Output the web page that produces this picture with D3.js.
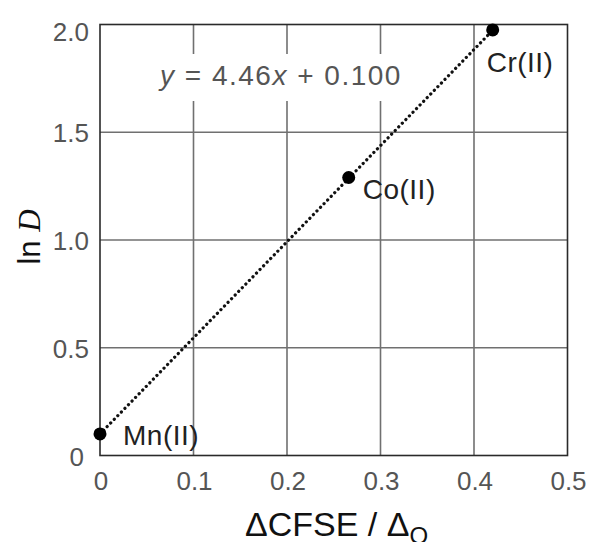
<!DOCTYPE html>
<html lang="en">
<head>
<meta charset="UTF-8">
<script src="https://d3js.org/d3.v7.min.js"></script>
<style>
  body { margin: 0; background: #fff; }
  text { font-family: 'Liberation Sans', Arial, sans-serif; }
</style>
</head>
<body>
<div id="chart"></div>
<script>
// data
var ions = ["Mn(II)", "Co(II)", "Cr(II)"];
var dcfse = [0, 0.266, 0.42];
var lnD = [0.10, 1.29, 1.975];
var xTicks = [0, 0.1, 0.2, 0.3, 0.4, 0.5];
var yTicks = [0, 0.5, 1.0, 1.5, 2.0];
var fitSlope = 4.46, fitIntercept = 0.100;

var svg = d3.select("#chart")
  .append("svg")
  .attr("width", 591)
  .attr("height", 542);

var x = d3.scaleLinear().domain([0, 0.5]).range([100, 567.5]);
var y = d3.scaleLinear().domain([0, 2]).range([455.5, 24.5]);

// grid
svg.append("g")
  .selectAll("line")
  .data(xTicks.slice(1, -1))
  .enter().append("line")
  .attr("x1", d => x(d)).attr("x2", d => x(d))
  .attr("y1", y(2)).attr("y2", y(0))
  .attr("stroke", "#707070").attr("stroke-width", 1.6);

svg.append("g")
  .selectAll("line")
  .data(yTicks.slice(1, -1))
  .enter().append("line")
  .attr("x1", x(0)).attr("x2", x(0.5))
  .attr("y1", d => y(d)).attr("y2", d => y(d))
  .attr("stroke", "#707070").attr("stroke-width", 1.6);

// white box behind equation
svg.append("rect")
  .attr("x", 155).attr("y", 54)
  .attr("width", 262).attr("height", 47)
  .attr("fill", "#fff");

// frame
svg.append("rect")
  .attr("x", x(0)).attr("y", y(2))
  .attr("width", x(0.5) - x(0)).attr("height", y(0) - y(2))
  .attr("fill", "none")
  .attr("stroke", "#2a2a2a").attr("stroke-width", 1.6);

// tick labels
svg.append("g")
  .selectAll("text")
  .data(xTicks)
  .enter().append("text")
  .attr("x", d => x(d) + 1)
  .attr("y", 490)
  .attr("text-anchor", "middle")
  .attr("fill", "#555")
  .style("font-size", "26px")
  .text(d => d === 0 ? "0" : d3.format(".1f")(d));

svg.append("g")
  .selectAll("text")
  .data(yTicks)
  .enter().append("text")
  .attr("x", d => d === 0 ? 84 : 89)
  .attr("y", d => d === 2 ? y(d) + 16 : y(d) + 10)
  .attr("text-anchor", "end")
  .attr("fill", "#555")
  .style("font-size", "26px")
  .text(d => d === 0 ? "0" : d3.format(".1f")(d));

// fit line
var line = d3.line().x(d => x(d)).y(d => y(fitSlope * d + fitIntercept));
svg.append("path")
  .attr("d", line([0, 0.42]))
  .attr("fill", "none")
  .attr("stroke", "#111")
  .attr("stroke-width", 3.2)
  .attr("stroke-linecap", "round")
  .attr("stroke-dasharray", "0.1 5");

// points
svg.append("g")
  .selectAll("circle")
  .data(ions)
  .enter().append("circle")
  .attr("cx", (d, i) => x(dcfse[i]))
  .attr("cy", (d, i) => y(lnD[i]))
  .attr("r", 6.5)
  .attr("fill", "#000");

// point labels
var labelOff = [[23, 11], [14, 21], [-6, 42]];
svg.append("g")
  .selectAll("text")
  .data(ions)
  .enter().append("text")
  .attr("x", (d, i) => x(dcfse[i]) + labelOff[i][0])
  .attr("y", (d, i) => y(lnD[i]) + labelOff[i][1])
  .attr("fill", "#222")
  .style("font-size", "28px")
  .style("letter-spacing", "0.5px")
  .text(d => d);

// equation
var eq = svg.append("text")
  .attr("x", 160).attr("y", 85)
  .attr("fill", "#555")
  .style("font-size", "28px")
  .style("letter-spacing", "1.5px");
eq.append("tspan").style("font-style", "italic").text("y");
eq.append("tspan").text(" = 4.46");
eq.append("tspan").style("font-style", "italic").text("x");
eq.append("tspan").text(" + 0.100");

// axis titles
var yl = svg.append("text")
  .attr("transform", "translate(40,237) rotate(-90)")
  .attr("text-anchor", "middle")
  .attr("fill", "#111")
  .style("font-size", "31px");
yl.append("tspan").text("ln ");
yl.append("tspan")
  .style("font-family", "'Liberation Serif', serif")
  .style("font-style", "italic")
  .text("D");

var xl = svg.append("text")
  .attr("x", 245).attr("y", 536)
  .attr("fill", "#111")
  .style("font-size", "34px");
xl.append("tspan").text("ΔCFSE / Δ");
xl.append("tspan").attr("dy", 8).style("font-size", "24px").text("O");
</script>
</body>
</html>
